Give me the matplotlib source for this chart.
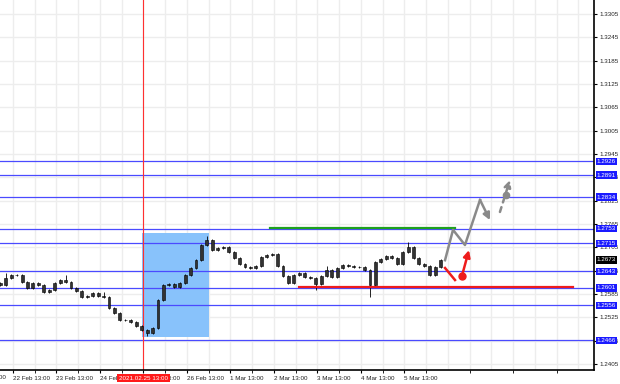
import numpy as np
import matplotlib
matplotlib.use("Agg")
import matplotlib.pyplot as plt
from matplotlib.patches import Rectangle

plt.rcParams['font.family'] = ['Liberation Sans', 'DejaVu Sans']

# GBP/USD style H-chart, time axis in trading hours from 19 Feb 13:00 (weekend skipped)
bar_start = 17
bar_step = 3
closes = [1.2608, 1.2626, 1.2634, 1.2634, 1.2616, 1.2600, 1.2613, 1.2608, 1.2590, 1.2595,
          1.2613, 1.2621, 1.2616, 1.2600, 1.2593, 1.2577, 1.2580, 1.2588, 1.2580, 1.2577,
          1.2549, 1.2536, 1.2518, 1.2518, 1.2513, 1.2503, 1.2493, 1.2485, 1.2498, 1.2570,
          1.2608, 1.2611, 1.2603, 1.2613, 1.2634, 1.2652, 1.2672, 1.2711, 1.2724, 1.2698,
          1.2703, 1.2706, 1.2693, 1.2678, 1.2662, 1.2654, 1.2652, 1.2657, 1.2680, 1.2685,
          1.2688, 1.2657, 1.2632, 1.2613, 1.2634, 1.2639, 1.2629, 1.2626, 1.2611, 1.2632,
          1.2647, 1.2629, 1.2652, 1.2660, 1.2657, 1.2654, 1.2654, 1.2647, 1.2608, 1.2667,
          1.2675, 1.2683, 1.2678, 1.2662, 1.2693, 1.2706, 1.2678, 1.2662, 1.2657, 1.2634,
          1.2654, 1.2673]
spike_high = {1: 1.2639, 12: 1.2634, 19: 1.2590, 38: 1.2735, 60: 1.2657, 75: 1.2719}
spike_low = {27: 1.2477, 58: 1.2595, 68: 1.2577}

levels = [1.2926, 1.2891, 1.2834, 1.2753, 1.2715, 1.2643, 1.2601, 1.2556, 1.2466]
current_price = 1.2673

price_ticks = [1.3305, 1.3245, 1.3185, 1.3125, 1.3065, 1.3005, 1.2945, 1.2885, 1.2825,
               1.2765, 1.2705, 1.2645, 1.2585, 1.2525, 1.2465, 1.2405]
day_hours = [24, 48, 72, 96, 120, 144, 168, 192, 216, 240]
day_labels = ["22 Feb 13:00", "23 Feb 13:00", "24 Feb 13:00", "25 Feb 13:00",
              "26 Feb 13:00", "1 Mar 13:00", "2 Mar 13:00", "3 Mar 13:00", "4 Mar 13:00",
              "5 Mar 13:00"]
first_label_hour = 0
first_label = "19 Feb 13:00"
marker_hour = 96
marker_label = "2021.02.25 13:00"

# drawn objects
box_hours = [95, 132]
box_prices = [1.2475, 1.2742]
green_hours = [166, 268]
green_price = 1.2755
red_hours = [182, 333]
red_price = 1.2603
fc_hours = [262.4, 266.8, 273.4, 281.7, 287.2]
fc_prices = [1.2672, 1.2750, 1.2711, 1.2827, 1.2775]
dash_hours = [292.7, 298.2]
dash_prices = [1.2796, 1.2878]
dash_dot = (296, 1.2840)
red_seg_hours = [262.4, 267.9]
red_seg_prices = [1.2652, 1.2621]
red_dot = (271.7, 1.2631)
red_arrow_end = (275.6, 1.2698)

xmin, xmax = 16.83, 344.6
ymin, ymax = 1.23897, 1.33409

fig = plt.figure(figsize=(6.2, 3.84), dpi=100)
ax = fig.add_axes([0, 14 / 384, 594 / 620, 370 / 384])

# grid
for h in np.arange(0, xmax, 12):
    ax.axvline(h, color="#ededed", lw=1.0, zorder=0)
for p in price_ticks:
    ax.axhline(p, color="#ededed", lw=1.0, zorder=0)

# box and time marker
ax.add_patch(Rectangle((box_hours[0], box_prices[0]), box_hours[1] - box_hours[0],
                       box_prices[1] - box_prices[0], facecolor="#88c2fb", edgecolor="none", zorder=1))
ax.axvline(marker_hour, color="#ff3030", lw=0.8, zorder=2)

# level lines
for lv in levels:
    ax.axhline(lv, color="#4a4aff", lw=0.9, zorder=1.5)

# candles
hours = bar_start + bar_step * np.arange(len(closes))
opens = [closes[0] + 0.0005] + closes[:-1]
for i, (h, o, c) in enumerate(zip(hours, opens, closes)):
    hi = max(o, c) + 0.0003
    lo = min(o, c) - 0.0003
    hi = max(hi, spike_high.get(i, hi))
    lo = min(lo, spike_low.get(i, lo))
    ax.vlines(h, lo, hi, color="black", lw=0.6, zorder=3)
    b0 = min(o, c)
    bh = max(abs(c - o), 0.00008)
    ax.add_patch(Rectangle((h - 0.8, b0), 1.6, bh, facecolor="#333333",
                           edgecolor="black", lw=0.4, zorder=3))

# green and red lines
ax.plot(green_hours, [green_price] * 2, color="#1fa01f", lw=1.6, zorder=4)
ax.plot(red_hours, [red_price] * 2, color="#ee1c1c", lw=1.6, zorder=4)

# forecast paths
ax.plot(fc_hours[:-1], fc_prices[:-1], color="#8a8a8a", lw=1.8, zorder=5)
ax.annotate("", xy=(fc_hours[-1], fc_prices[-1]), xytext=(fc_hours[-2], fc_prices[-2]),
            arrowprops=dict(arrowstyle="-|>", color="#8a8a8a", lw=1.8, mutation_scale=10,
                            shrinkA=0, shrinkB=0), zorder=5)
ax.annotate("", xy=(dash_hours[1], dash_prices[1]), xytext=(dash_hours[0], dash_prices[0]),
            arrowprops=dict(arrowstyle="-|>", color="#8a8a8a", lw=1.8, linestyle=(0, (2, 2)),
                            mutation_scale=10, shrinkA=0, shrinkB=0), zorder=5)
ax.plot(*dash_dot, "o", color="#8a8a8a", ms=4.5, zorder=5)
ax.plot(red_seg_hours, red_seg_prices, color="#ee1c1c", lw=1.8, zorder=5)
ax.plot(*red_dot, "o", color="#ee1c1c", ms=5, zorder=5)
ax.annotate("", xy=red_arrow_end, xytext=red_dot,
            arrowprops=dict(arrowstyle="-|>", color="#ee1c1c", lw=1.8, mutation_scale=10,
                            shrinkA=0, shrinkB=0), zorder=5)

# axes styling
for s in ["top", "left"]:
    ax.spines[s].set_visible(False)
ax.spines["right"].set_linewidth(1.2)
ax.spines["bottom"].set_linewidth(1.2)
ax.yaxis.tick_right()
ax.set_yticks(price_ticks)
ax.set_yticklabels([f"{p:.4f}" for p in price_ticks], fontsize=4.5, color="#222222")
ax.tick_params(axis="y", length=2, pad=2)
ax.set_xticks(day_hours)
ax.set_xticklabels(day_labels, fontsize=4.5, color="#222222", ha="left")
ax.set_xticks(np.arange(36, xmax, 24), minor=True)
ax.tick_params(axis="x", which="both", length=2, pad=2)
ax.set_xlim(xmin, xmax)
ax.set_ylim(ymin, ymax)

ax.annotate(first_label, xy=(first_label_hour, 0), xycoords=("data", "axes fraction"),
            xytext=(0, -3.5), textcoords="offset points", fontsize=4.5, color="#222222",
            va="top", ha="left", annotation_clip=False)

# level tags on price scale
tag_style = dict(xytext=(2, 0), textcoords="offset points", fontsize=4.5, color="white",
                 va="center", ha="left", annotation_clip=False, zorder=6)
for lv in levels:
    ax.annotate(f"{lv:.4f}", xy=(1.0, lv), xycoords=("axes fraction", "data"),
                bbox=dict(boxstyle="square,pad=0.2", facecolor="#1a1aff", edgecolor="none"),
                **tag_style)
ax.annotate(f"{current_price:.4f}", xy=(1.0, current_price), xycoords=("axes fraction", "data"),
            bbox=dict(boxstyle="square,pad=0.2", facecolor="black", edgecolor="none"),
            **tag_style)
ax.annotate(marker_label, xy=(marker_hour, 0), xycoords=("data", "axes fraction"),
            xytext=(0, -6), textcoords="offset points", fontsize=4.5, color="white",
            va="center", ha="center", annotation_clip=False, zorder=6,
            bbox=dict(boxstyle="square,pad=0.25", facecolor="#ff1a1a", edgecolor="none"))

fig.savefig("out.png", dpi=100)
